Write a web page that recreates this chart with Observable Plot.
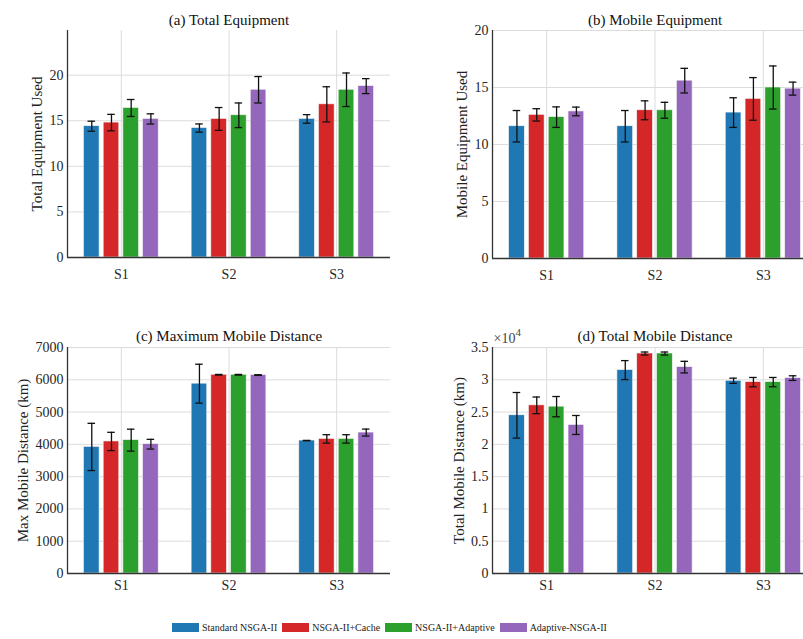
<!DOCTYPE html>
<html>
<head>
<meta charset="utf-8">
<script src="https://cdn.jsdelivr.net/npm/d3@7"></script>
<script src="https://cdn.jsdelivr.net/npm/@observablehq/plot@0.6"></script>
<style>
  html, body { margin: 0; padding: 0; background: #fff; }
  #fig { position: relative; width: 803px; height: 639px; overflow: hidden; background: #fff; font-family: "Liberation Serif", "DejaVu Serif", serif; }
  #fig svg, #fig svg text, #fig svg g { font-family: "Liberation Serif", "DejaVu Serif", serif !important; }
  .panel { position: absolute; }
  #legend { position: absolute; top: 622px; left: 172px; display: flex; align-items: center; font-size: 10px; color: #222; white-space: nowrap; font-family: "Liberation Serif", "DejaVu Serif", serif; }
  #legend .sw { display: inline-block; width: 27px; height: 9px; margin-right: 3px; }
  #legend .it { display: flex; align-items: center; margin-right: 5px; }
</style>
</head>
<body>
<div id="fig"><div id="legend"></div></div>
<script>
const scenarios = ["S1", "S2", "S3"];
const methods = ["Standard NSGA-II", "NSGA-II+Cache", "NSGA-II+Adaptive", "Adaptive-NSGA-II"];
const colors = ["#1f77b4", "#d62728", "#2ca02c", "#9467bd"];

// rows = scenarios, columns = methods
const totalEqMean = [[14.4, 14.8, 16.4, 15.2], [14.2, 15.2, 15.6, 18.4], [15.2, 16.8, 18.4, 18.8]];
const totalEqErr  = [[0.55, 0.9, 0.93, 0.56], [0.45, 1.25, 1.35, 1.45], [0.47, 1.93, 1.84, 0.82]];

const mobileEqMean = [[11.6, 12.6, 12.4, 12.9], [11.6, 13.0, 13.0, 15.6], [12.8, 14.0, 15.0, 14.9]];
const mobileEqErr  = [[1.38, 0.54, 0.9, 0.38], [1.38, 0.83, 0.7, 1.08], [1.3, 1.87, 1.89, 0.57]];

const maxDistMean = [[3920, 4090, 4130, 4005], [5880, 6156, 6156, 6146], [4118, 4169, 4169, 4365]];
const maxDistErr  = [[731, 283, 340, 150], [602, 10, 10, 10], [5, 130, 130, 108]];

const totDistMean = [[24500, 26040, 25840, 23000], [31500, 34070, 34070, 31960], [29850, 29640, 29640, 30260]];
const totDistErr  = [[3530, 1290, 1570, 1470], [1470, 230, 230, 900], [400, 720, 720, 360]];

const barOffsets = [-0.2745, -0.0915, 0.0915, 0.2745];
const barWidth = 0.145;
const capHalf = 0.035;
const xDomain = [0.5, 3.5];
const serif = "Liberation Serif, DejaVu Serif, serif";

function rowsOf(mean, err) {
  const rows = [];
  scenarios.forEach((s, si) => methods.forEach((m, mi) => {
    const x = si + 1 + barOffsets[mi];
    rows.push({s, m, x, x1: x - barWidth / 2, x2: x + barWidth / 2,
      mean: mean[si][mi], lo: mean[si][mi] - err[si][mi], hi: mean[si][mi] + err[si][mi]});
  }));
  return rows;
}

function panel({mean, err, yDomain, yTicks, tickFormat, title, ylabel, left, top, width, height,
                marginLeft, marginRight, marginTop, marginBottom, ylabelOffset, titleDy, xPad, exponent}) {
  const rows = rowsOf(mean, err);
  const marks = [
    Plot.gridY(yTicks, {stroke: "#dcdcdc", strokeOpacity: 1}),
    Plot.gridX([1, 2, 3], {stroke: "#dcdcdc", strokeOpacity: 1}),
    Plot.rect(rows, {x1: "x1", x2: "x2", y1: 0, y2: "mean", fill: "m", stroke: "#f4f4f4", strokeWidth: 0.6}),
    Plot.ruleX(rows, {x: "x", y1: "lo", y2: "hi", stroke: "#111", strokeWidth: 1.3}),
    Plot.ruleY(rows, {y: "lo", x1: d => d.x - capHalf, x2: d => d.x + capHalf, stroke: "#111", strokeWidth: 1.3}),
    Plot.ruleY(rows, {y: "hi", x1: d => d.x - capHalf, x2: d => d.x + capHalf, stroke: "#111", strokeWidth: 1.3}),
    Plot.ruleY([yDomain[0]], {stroke: "#333", strokeWidth: 1.3}),
    Plot.ruleX([xDomain[0]], {stroke: "#333", strokeWidth: 1.3}),
    Plot.axisY(yTicks, {tickSize: 0, tickPadding: 4, tickFormat, label: null, fontSize: 14, fontFamily: serif}),
    Plot.axisX([1, 2, 3], {tickSize: 0, tickPadding: xPad, tickFormat: d => scenarios[d - 1], label: null, fontSize: 14, fontFamily: serif}),
    Plot.text([title], {text: d => d, frameAnchor: "top", dy: titleDy, lineAnchor: "middle", fontSize: 15, fill: "#111", fontFamily: serif}),
    Plot.text([ylabel], {text: d => d, frameAnchor: "left", dx: -ylabelOffset, rotate: -90, textAnchor: "middle", lineAnchor: "middle", fontSize: 15, fill: "#222", fontFamily: serif})
  ];
  if (exponent) {
    marks.push(Plot.text([exponent[0]], {text: d => d, frameAnchor: "top-left", dx: 1, dy: -9, textAnchor: "start", lineAnchor: "middle", fontSize: 14, fill: "#444", fontFamily: serif}));
    marks.push(Plot.text([exponent[1]], {text: d => d, frameAnchor: "top-left", dx: 23, dy: -15, textAnchor: "start", lineAnchor: "middle", fontSize: 11, fill: "#444", fontFamily: serif}));
  }
  const chart = Plot.plot({
    width, height, marginLeft, marginRight, marginTop, marginBottom,
    style: {fontFamily: serif, fontSize: "14px", color: "#262626", background: "transparent", overflow: "visible"},
    x: {type: "linear", domain: xDomain, axis: null},
    y: {domain: yDomain, axis: null},
    color: {domain: methods, range: colors},
    marks
  });
  chart.classList.add("panel");
  chart.style.left = left + "px";
  chart.style.top = top + "px";
  document.getElementById("fig").appendChild(chart);
}

panel({mean: totalEqMean, err: totalEqErr, yDomain: [0, 24.9], yTicks: [0, 5, 10, 15, 20],
  tickFormat: d => String(d), title: "(a) Total Equipment", ylabel: "Total Equipment Used",
  left: 0, top: 0, width: 400, height: 300, marginLeft: 67, marginRight: 10, marginTop: 30, marginBottom: 43,
  ylabelOffset: 30, titleDy: -10, xPad: 12});

panel({mean: mobileEqMean, err: mobileEqErr, yDomain: [0, 20], yTicks: [0, 5, 10, 15, 20],
  tickFormat: d => String(d), title: "(b) Mobile Equipment", ylabel: "Mobile Equipment Used",
  left: 400, top: 0, width: 430, height: 300, marginLeft: 92, marginRight: 13, marginTop: 30, marginBottom: 42,
  ylabelOffset: 30, titleDy: -10, xPad: 12});

panel({mean: maxDistMean, err: maxDistErr, yDomain: [0, 7000], yTicks: [0, 1000, 2000, 3000, 4000, 5000, 6000, 7000],
  tickFormat: d => String(d), title: "(c) Maximum Mobile Distance", ylabel: "Max Mobile Distance (km)",
  left: 0, top: 320, width: 400, height: 290, marginLeft: 67, marginRight: 10, marginTop: 27, marginBottom: 37,
  ylabelOffset: 44, titleDy: -11, xPad: 7});

panel({mean: totDistMean, err: totDistErr, yDomain: [0, 35000], yTicks: [0, 5000, 10000, 15000, 20000, 25000, 30000, 35000],
  tickFormat: d => String(d / 10000), title: "(d) Total Mobile Distance", ylabel: "Total Mobile Distance (km)",
  left: 400, top: 320, width: 430, height: 290, marginLeft: 92, marginRight: 13, marginTop: 27, marginBottom: 37,
  ylabelOffset: 33, titleDy: -11, xPad: 7, exponent: ["×10", "4"]});

const legend = document.getElementById("legend");
methods.forEach((m, i) => {
  const it = document.createElement("div");
  it.className = "it";
  const sw = document.createElement("span");
  sw.className = "sw";
  sw.style.background = colors[i];
  const tx = document.createElement("span");
  tx.textContent = m;
  it.appendChild(sw);
  it.appendChild(tx);
  legend.appendChild(it);
});
</script>
</body>
</html>
